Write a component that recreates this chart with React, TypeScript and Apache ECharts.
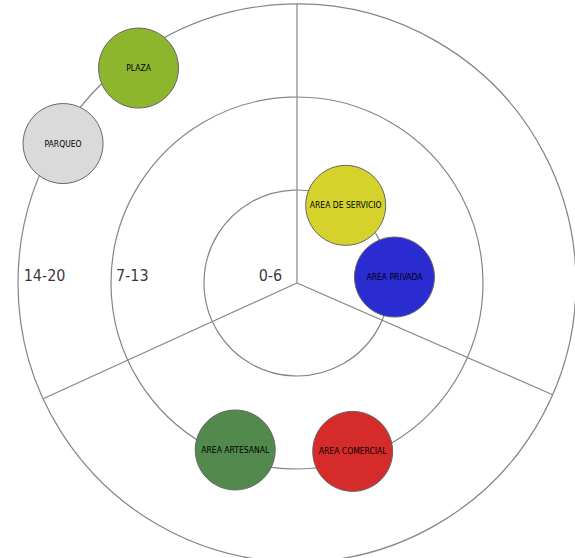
import React, { useEffect, useRef } from "react";
import * as echarts from "echarts";

// Ring bands (radius values) and their labels
const RING_MAX = 21;
const RING_STEP = 7;
const RING_LABELS = ["0-6", "7-13", "14-20"];
const RING_LABEL_RADIUS = [2.0, 12.4, 19.0];
const RING_LABEL_ANGLE = 180;

// Dividing spokes (math angles, degrees)
const SPOKE_ANGLES = [90, 336.4, 204.5];

// Zones placed on the rings
const NODE_NAMES = ["PLAZA", "PARQUEO", "AREA DE SERVICIO", "AREA PRIVADA", "AREA ARTESANAL", "AREA COMERCIAL"];
const NODE_RADIUS = [20.1, 20.5, 6.9, 7.35, 13.4, 13.35];
const NODE_ANGLE = [126.4, 149.2, 57.9, 3.5, 249.7, 288.3];
const NODE_COLORS = ["#8db62e", "#dadada", "#d5d32b", "#2b2bd2", "#518a4c", "#d62b2b"];

const NARROW = "'Liberation Sans Narrow', 'DejaVu Sans Condensed', 'Arial Narrow', sans-serif";
const LINE_COLOR = "#858585";

export default function App() {
  const ref = useRef<HTMLDivElement>(null);

  useEffect(() => {
    if (!ref.current) return;
    const chart = echarts.init(ref.current, undefined, { renderer: "svg" });

    const spokeSeries = SPOKE_ANGLES.map((a) => ({
      type: "line",
      coordinateSystem: "polar",
      data: [
        [0, a],
        [RING_MAX, a],
      ],
      symbol: "none",
      silent: true,
      z: 1,
      lineStyle: { color: LINE_COLOR, width: 1.2 },
    }));

    chart.setOption({
      animation: false,
      backgroundColor: "#ffffff",
      polar: { center: [297, 283], radius: 279 },
      angleAxis: {
        type: "value",
        min: 0,
        max: 360,
        startAngle: 0,
        clockwise: false,
        axisLine: { show: false },
        axisTick: { show: false },
        axisLabel: { show: false },
        splitLine: { show: false },
      },
      radiusAxis: {
        type: "value",
        min: 0,
        max: RING_MAX,
        interval: RING_STEP,
        axisLine: { show: false },
        axisTick: { show: false },
        axisLabel: { show: false },
        splitLine: { show: true, lineStyle: { color: LINE_COLOR, width: 1.2 } },
      },
      series: [
        ...spokeSeries,
        {
          type: "scatter",
          coordinateSystem: "polar",
          symbol: "circle",
          symbolSize: 2,
          itemStyle: { color: "rgba(0,0,0,0)" },
          z: 2,
          silent: true,
          data: RING_LABELS.map((t, i) => ({ name: t, value: [RING_LABEL_RADIUS[i], RING_LABEL_ANGLE] })),
          label: {
            show: true,
            position: "inside",
            offset: [0, -8],
            formatter: "{b}",
            fontFamily: NARROW,
            fontSize: 16,
            color: "#000",
          },
        },
        {
          type: "scatter",
          coordinateSystem: "polar",
          symbol: "circle",
          symbolSize: 80,
          z: 5,
          data: NODE_NAMES.map((n, i) => ({
            name: n,
            value: [NODE_RADIUS[i], NODE_ANGLE[i]],
            itemStyle: { color: NODE_COLORS[i] },
          })),
          itemStyle: { borderColor: "#666", borderWidth: 1, opacity: 1 },
          label: {
            show: true,
            position: "inside",
            formatter: "{b}",
            fontFamily: NARROW,
            fontSize: 8.5,
            color: "#000",
          },
        },
      ],
    });

    return () => chart.dispose();
  }, []);

  return (
    <div
      ref={ref}
      style={{ position: "fixed", left: 0, top: 0, width: 575, height: 558, background: "#fff" }}
    />
  );
}
